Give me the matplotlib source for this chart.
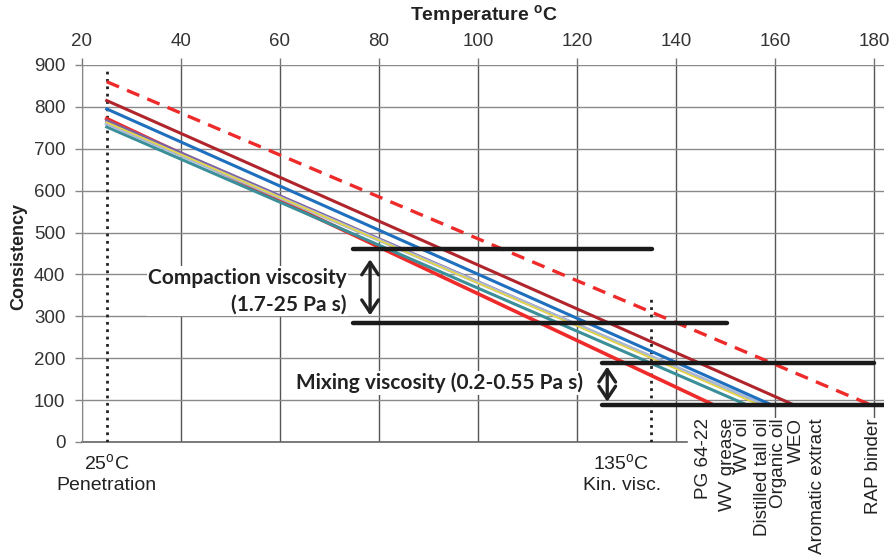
import numpy as np
import matplotlib.pyplot as plt
import matplotlib as mpl
from matplotlib.patches import Rectangle

mpl.rcParams['font.family'] = 'Liberation Sans'
mpl.rcParams['mathtext.fontset'] = 'custom'
mpl.rcParams['mathtext.rm'] = 'Liberation Sans'
mpl.rcParams['mathtext.bf'] = 'Liberation Sans:bold'

# binders: consistency at 25 C and temperature where the line reaches the mixing level
binders = ["PG 64-22", "WV grease", "WV oil", "Distilled tall oil",
           "Organic oil", "WEO", "Aromatic extract", "RAP binder"]
start_temp = 25
end_level = 90
start_vals = [772, 752, 763, 760, 795, 815, 767, 860]
end_temps = [147.3, 154.0, 156.5, 157.5, 159.0, 163.5, 157.0, 179.0]
colors = ['#ee2a2a', '#3a8f98', '#e6d640', '#aab8d6', '#1f6fbf', '#b0242b', '#7b62a3', '#ee2a2a']
widths = [2.6, 2.2, 1.2, 2.6, 2.2, 2.2, 2.2, 2.4]
styles = ['-', '-', '-', '-', '-', '-', '-', '--']
draw_order = [0, 1, 6, 3, 2, 4, 5, 7]

# label positions along the temperature axis
label_x = [145.5, 150.3, 153.5, 157.4, 160.6, 164.4, 168.5, 179.8]

# viscosity ranges (consistency level, from temp, to temp)
compaction_hi = (460, 74.7, 135.2)
compaction_lo = (283, 74.7, 150.3)
mixing_hi = (189, 125.0, 180.0)
mixing_lo = (89, 125.0, 182.0)

x_ticks = [20, 40, 60, 80, 100, 120, 140, 160, 180]
y_ticks = [0, 100, 200, 300, 400, 500, 600, 700, 800, 900]

fig = plt.figure(figsize=(8.91, 5.58), dpi=100)
ax = fig.add_axes([0.092, 0.208, 0.9001, 0.6756])
ax.set_xlim(20, 182)
ax.set_ylim(0, 900)

ax.set_xticks(x_ticks)
ax.set_yticks(y_ticks)
ax.xaxis.tick_top()
ax.tick_params(axis='x', length=5, width=1, color='#777777', pad=6, labelsize=13.5, labelcolor='#333333')
ax.tick_params(axis='y', length=5, width=1, color='#888888', pad=7, labelsize=13.5, labelcolor='#333333')
ax.grid(axis='y', color='#8a8a8a', lw=1)
ax.grid(axis='x', color='#555555', lw=1)
for s in ['top', 'right', 'bottom']:
    ax.spines[s].set_visible(False)
ax.spines['left'].set_color('#888888')

# no axis below the labels on the right
ax.add_patch(Rectangle((142.3, -5), 45, 62, facecolor='white', edgecolor='none', zorder=1.6, clip_on=False))
ax.plot([20, 142.3], [0, 0], color='#666666', lw=1.2, clip_on=False, zorder=1.7)

# reference temperatures
ax.plot([25, 25], [0, 890], color='#222222', ls=':', lw=2, zorder=3)
ax.plot([135, 135], [0, 343], color='#222222', ls=':', lw=2, zorder=3)

for i in draw_order:
    ln, = ax.plot([start_temp, end_temps[i]], [start_vals[i], end_level], color=colors[i],
                  lw=widths[i], ls=styles[i], zorder=4)
    if styles[i] == '--':
        ln.set_dashes((4, 2.6))

for lvl, x0, x1 in [compaction_hi, compaction_lo, mixing_hi, mixing_lo]:
    ax.plot([x0, x1], [lvl, lvl], color='#1a1a1a', lw=3.2, solid_capstyle='round', zorder=5)

arrow = dict(arrowstyle='<->,head_length=0.45,head_width=0.3', color='#222222', lw=2.4,
             mutation_scale=20, shrinkA=0, shrinkB=0)
ax.annotate('', xy=(78.2, 436), xytext=(78.2, 302), arrowprops=arrow, zorder=6)
ax.annotate('', xy=(126.1, 180), xytext=(126.1, 96), arrowprops=arrow, zorder=6)

box = dict(facecolor='white', edgecolor='none', pad=1)
ax.text(73.5, 360, "Compaction viscosity\n(1.7-25 Pa s)", ha='right', va='center', multialignment='right',
        fontsize=15, fontweight='bold', family='Lato', color='#222222', bbox=box, zorder=6, linespacing=1.4)
ax.text(121.2, 141, "Mixing viscosity (0.2-0.55 Pa s)", ha='right', va='center',
        fontsize=15, fontweight='bold', family='Lato', color='#222222', bbox=box, zorder=6)

for name, xp in zip(binders, label_x):
    ax.text(xp, 57, name, rotation=90, ha='center', va='top', fontsize=13.6,
            color='#222222', clip_on=False, zorder=7)

ax.text(25, -26, "25$^{\\mathrm{o}}$C\nPenetration", ha='center', va='top', fontsize=14,
        color='#222222', clip_on=False, linespacing=1.3)
ax.text(129, -26, "135$^{\\mathrm{o}}$C\nKin. visc.", ha='center', va='top', fontsize=14,
        color='#222222', clip_on=False, linespacing=1.3)

fig.text(0.5427, 0.972, "Temperature $^{\\mathbf{o}}$C", ha='center', va='center',
         fontsize=14, fontweight='bold', color='#222222')
fig.text(0.021, 0.541, "Consistency", rotation=90, ha='center', va='center',
         fontsize=13, fontweight='bold', color='#222222')

plt.savefig("out.png", dpi=100)
